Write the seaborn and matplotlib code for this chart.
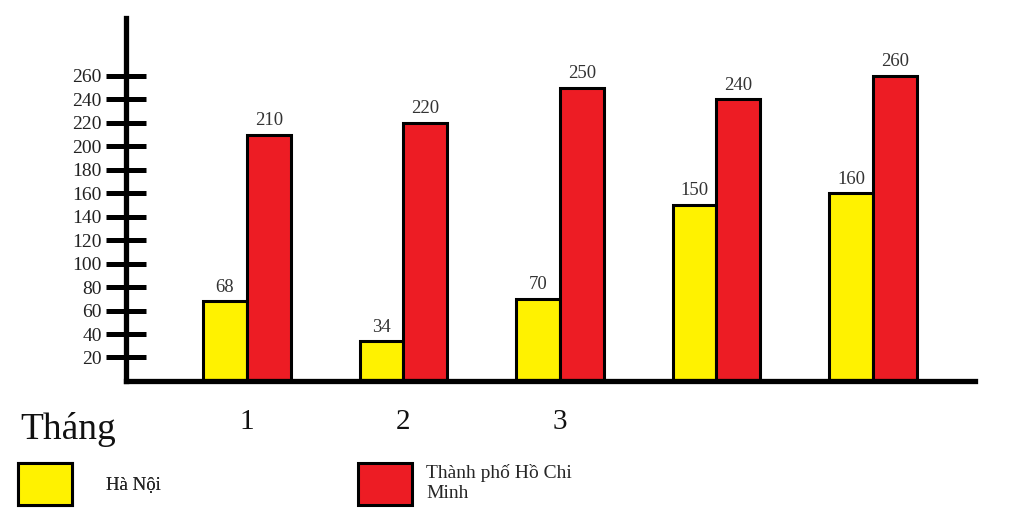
import matplotlib
matplotlib.use("Agg")
import matplotlib.pyplot as plt
import seaborn as sns
import pandas as pd

# Data
months = ["1", "2", "3", "4", "5"]
month_labels = ["1", "2", "3", "", ""]
ha_noi = [68, 34, 70, 150, 160]
hcm = [210, 220, 250, 240, 260]
series_names = ["Hà Nội", "Thành phố Hồ Chi\nMinh"]
y_ticks = [20, 40, 60, 80, 100, 120, 140, 160, 180, 200, 220, 240, 260]

df = pd.DataFrame({
    "Tháng": months * 2,
    "value": ha_noi + hcm,
    "city": [series_names[0]] * len(months) + [series_names[1]] * len(months),
})

sns.set_theme(style="white")
plt.rcParams["font.family"] = ["Liberation Serif", "DejaVu Serif"]

fig = plt.figure(figsize=(10.24, 5.24), dpi=100)
ax = fig.add_axes([0.123, 0.273, 0.829, 0.693])

palette = ["#FFF200", "#ED1C24"]
sns.barplot(data=df, x="Tháng", y="value", hue="city", palette=palette,
            width=0.56, edgecolor="black", linewidth=2.2, saturation=1,
            ax=ax)

for cont in ax.containers:
    ax.bar_label(cont, padding=4, fontsize=13.5, color="#333333")

handles, labels = ax.get_legend_handles_labels()
ax.get_legend().remove()

ax.set_xlim(-0.773, 4.652)
ax.set_ylim(0, 309.5)

ax.set_yticks(y_ticks)
ax.set_yticklabels([str(v) for v in y_ticks], fontsize=14, color="#222222")
ax.tick_params(axis="y", direction="inout", length=29, width=3.6,
               color="black", pad=3, left=True)
ax.set_xticks(range(len(months)))
ax.set_xticklabels(month_labels, fontsize=21, color="#111111")
ax.tick_params(axis="x", length=0, pad=20)

ax.set_xlabel("")
ax.set_ylabel("")

for side in ["top", "right"]:
    ax.spines[side].set_visible(False)
for side in ["left", "bottom"]:
    ax.spines[side].set_linewidth(3.8)
    ax.spines[side].set_color("black")
    ax.spines[side].set_capstyle("projecting")

fig.text(0.02, 0.163, "Tháng", fontsize=27, color="#111111",
         ha="left", va="baseline")

leg1 = fig.legend([handles[0]], [labels[0]], loc="lower left",
                  bbox_to_anchor=(0.010, 0.022), frameon=False,
                  fontsize=13.5, handlelength=2.9, handleheight=3.05,
                  handletextpad=1.8, borderaxespad=0)
leg2 = fig.legend([handles[1]], [labels[1]], loc="lower left",
                  bbox_to_anchor=(0.342, 0.022), frameon=False,
                  fontsize=14, handlelength=2.8, handleheight=2.95,
                  handletextpad=0.7, borderaxespad=0)
fig.add_artist(leg1)

fig.savefig("out.png", dpi=100)
